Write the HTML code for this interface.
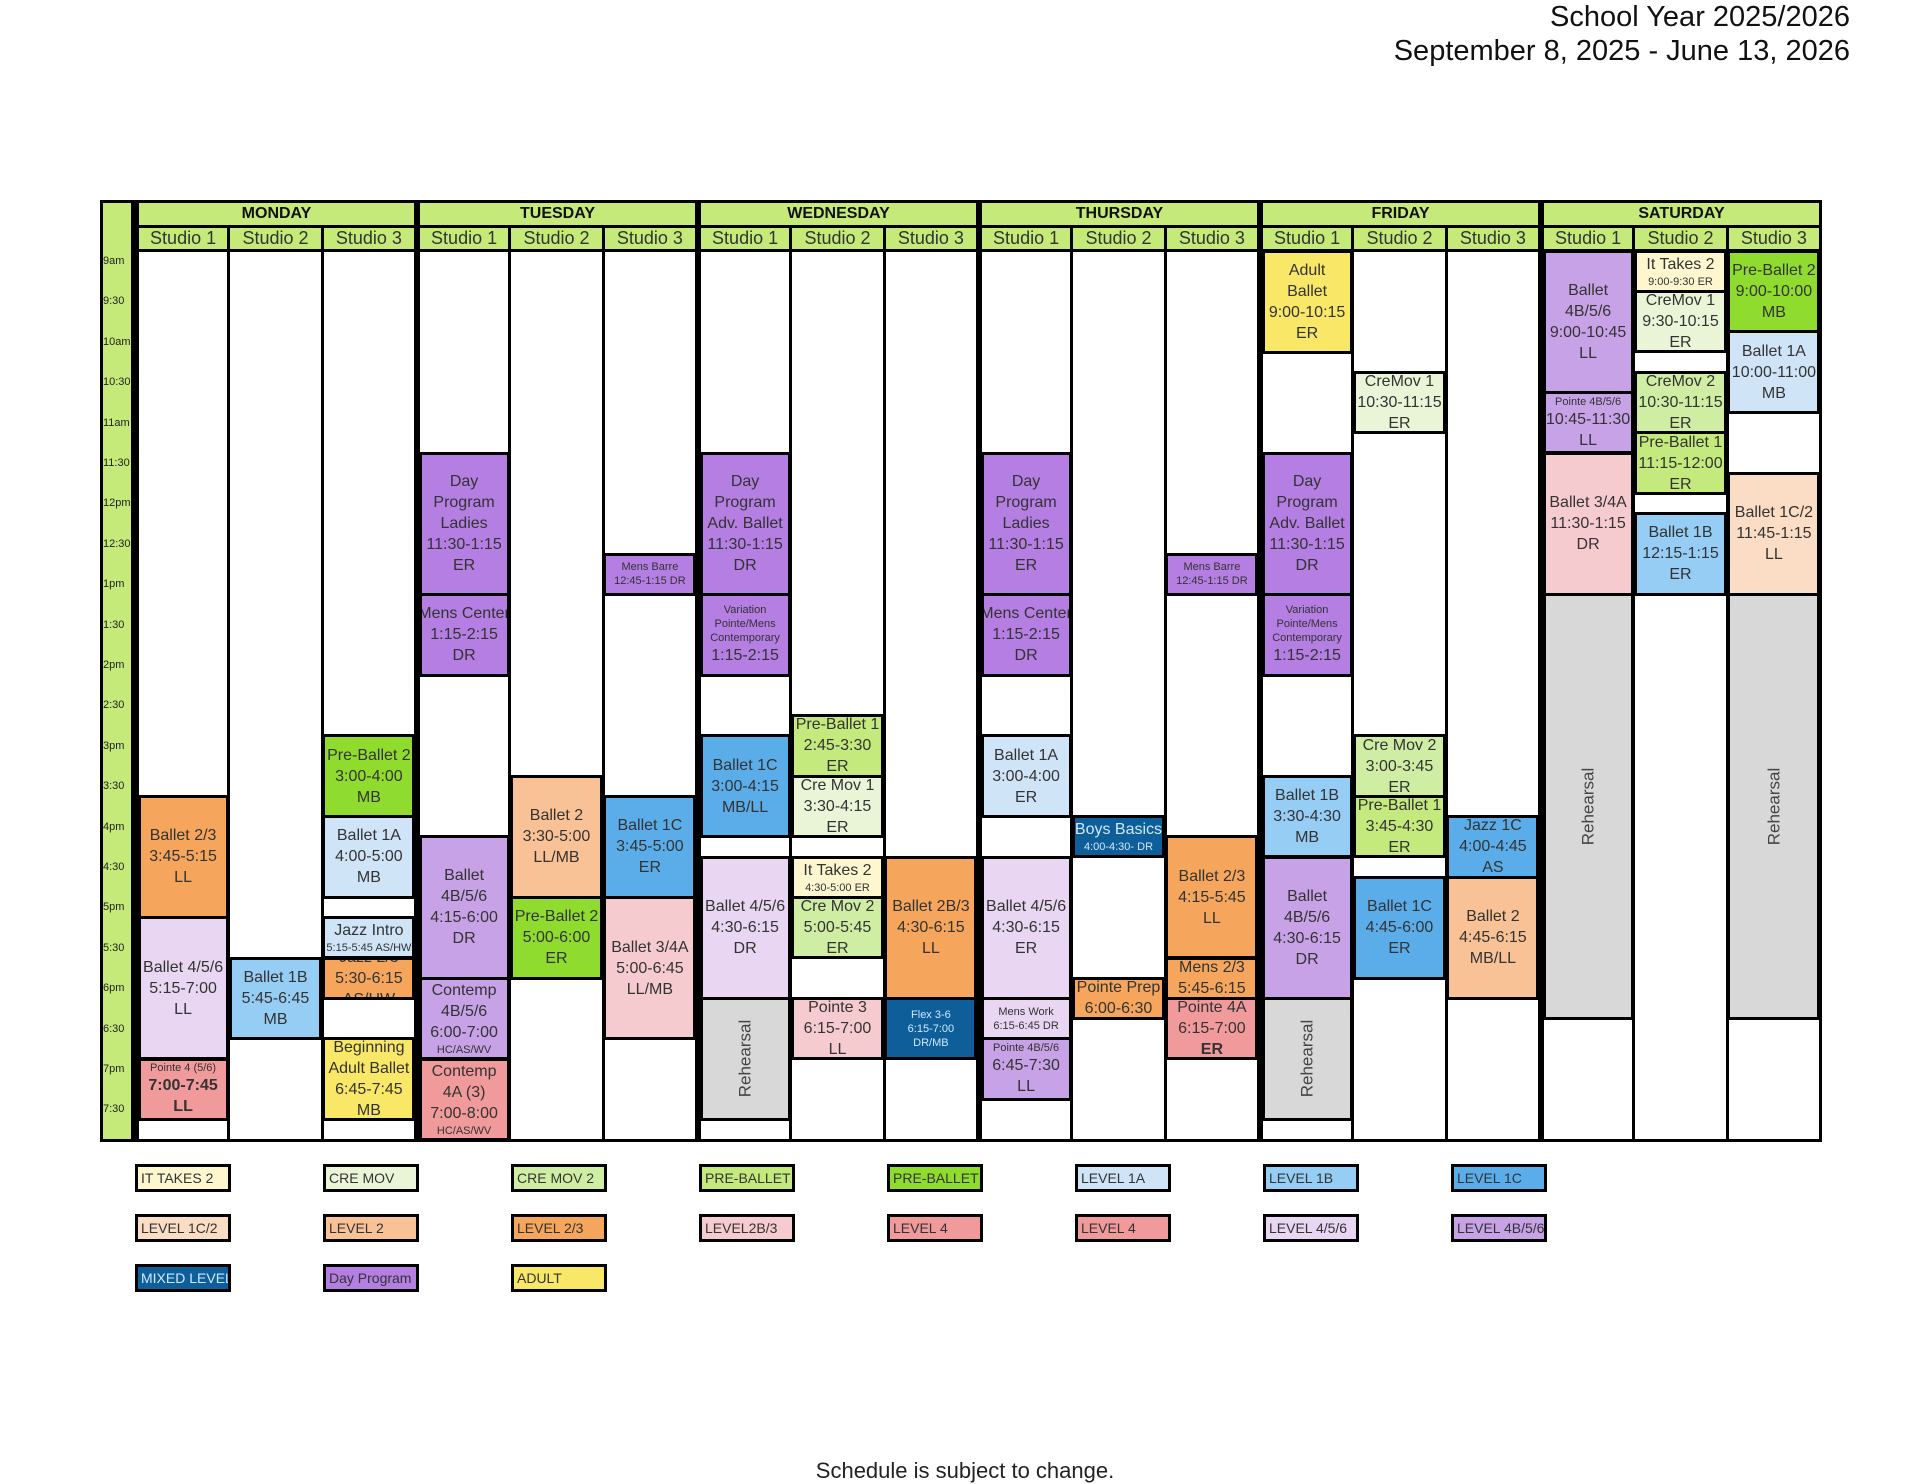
<!DOCTYPE html>
<html><head><meta charset="utf-8">
<style>
body{margin:0;width:1920px;height:1484px;background:#fff;position:relative;overflow:hidden;font-family:"Liberation Sans",sans-serif;}
.abs{position:absolute;box-sizing:border-box;}
.ev{position:absolute;box-sizing:border-box;border:3px solid #000;display:flex;flex-direction:column;justify-content:center;align-items:center;text-align:center;color:#333;font-size:16px;line-height:21px;overflow:hidden;white-space:nowrap;}
.ev .s{font-size:11px;line-height:14px;}
.rot{transform:rotate(-90deg);white-space:nowrap;font-size:17px;color:#444;}
.tl{position:absolute;left:103px;font-size:11px;color:#222;}
.hd{position:absolute;background:#c5ea79;display:flex;align-items:center;justify-content:center;box-sizing:border-box;}
.leg{position:absolute;box-sizing:border-box;border:3px solid #000;width:96px;height:28px;font-size:14px;line-height:22px;padding-left:3px;color:#333;white-space:nowrap;overflow:hidden;}
</style></head><body>
<div class="abs" style="right:70px;top:0;font-size:29px;line-height:34px;text-align:right;color:#111;">School Year 2025/2026<br>September 8, 2025 - June 13, 2026</div>
<div class="abs" style="left:100px;top:200px;width:1722px;height:942px;background:#000;"></div>
<div class="abs" style="left:103px;top:203px;width:28px;height:936px;background:#c5ea79;"></div>
<div id="grid"></div>
<div class="abs" style="left:0;width:1930px;top:1458px;text-align:center;font-size:22px;color:#222;">Schedule is subject to change.</div>
<script>
const days=["MONDAY","TUESDAY","WEDNESDAY","THURSDAY","FRIDAY","SATURDAY"];
const studios=["Studio 1","Studio 2","Studio 3"];
const timeLabels=["9am","9:30","10am","10:30","11am","11:30","12pm","12:30","1pm","1:30","2pm","2:30","3pm","3:30","4pm","4:30","5pm","5:30","6pm","6:30","7pm","7:30"];
const C={it2:"#fdf6cf",cre:"#eaf5d8",cre2:"#cfeea4",pb1:"#c4ea7e",pb2:"#8fdc2e",l1a:"#cfe5f7",l1b:"#96cdf4",l1c:"#5badea",l1c2:"#fbdcc4",l2:"#f9c196",l23:"#f5a65c",l2b3:"#f6cbd0",l4:"#f09a9b",l456:"#e8d6f2",l4b56:"#c8a2e6",mix:"#0e5e9a",day:"#b47ee2",adult:"#f9e868",reh:"#d8d8d8"};
// events: day, studio, start(h), end(h), colorKey, lines ("~" prefix = small line)
const events=[
[0,0,15.75,17.25,"l23",["Ballet 2/3","3:45-5:15","LL"]],
[0,0,17.25,19,"l456",["Ballet 4/5/6","5:15-7:00","LL"]],
[0,0,19,19.75,"l4",["~Pointe 4 (5/6)","<b>7:00-7:45</b>","<b>LL</b>"]],
[0,1,17.75,18.75,"l1b",["Ballet 1B","5:45-6:45","MB"]],
[0,2,15,16,"pb2",["Pre-Ballet 2","3:00-4:00","MB"]],
[0,2,16,17,"l1a",["Ballet 1A","4:00-5:00","MB"]],
[0,2,17.25,17.75,"l1a",["Jazz Intro","~5:15-5:45 AS/HW"]],
[0,2,17.75,18.25,"l23",["Jazz 2/3","5:30-6:15","AS/HW"]],
[0,2,18.75,19.75,"adult",["Beginning","Adult Ballet","6:45-7:45","MB"]],
[1,0,11.5,13.25,"day",["Day","Program","Ladies","11:30-1:15","ER"]],
[1,0,13.25,14.25,"day",["Mens Center","1:15-2:15","DR"]],
[1,0,16.25,18,"l4b56",["Ballet","4B/5/6","4:15-6:00","DR"]],
[1,0,18,19,"l4b56",["Contemp","4B/5/6","6:00-7:00","~HC/AS/WV"]],
[1,0,19,20,"l4",["Contemp","4A (3)","7:00-8:00","~HC/AS/WV"]],
[1,1,15.5,17,"l2",["Ballet 2","3:30-5:00","LL/MB"]],
[1,1,17,18,"pb2",["Pre-Ballet 2","5:00-6:00","ER"]],
[1,2,12.75,13.25,"day",["~Mens Barre","~12:45-1:15 DR"]],
[1,2,15.75,17,"l1c",["Ballet 1C","3:45-5:00","ER"]],
[1,2,17,18.75,"l2b3",["Ballet 3/4A","5:00-6:45","LL/MB"]],
[2,0,11.5,13.25,"day",["Day","Program","Adv. Ballet","11:30-1:15","DR"]],
[2,0,13.25,14.25,"day",["~Variation","~Pointe/Mens","~Contemporary","1:15-2:15"]],
[2,0,15,16.25,"l1c",["Ballet 1C","3:00-4:15","MB/LL"]],
[2,0,16.5,18.25,"l456",["Ballet 4/5/6","4:30-6:15","DR"]],
[2,0,18.25,19.75,"reh",["@Rehearsal"]],
[2,1,14.75,15.5,"pb1",["Pre-Ballet 1","2:45-3:30","ER"]],
[2,1,15.5,16.25,"cre",["Cre Mov 1","3:30-4:15","ER"]],
[2,1,16.5,17,"it2",["It Takes 2","~4:30-5:00 ER"]],
[2,1,17,17.75,"cre2",["Cre Mov 2","5:00-5:45","ER"]],
[2,1,18.25,19,"l2b3",["Pointe 3","6:15-7:00","LL"]],
[2,2,16.5,18.25,"l23",["Ballet 2B/3","4:30-6:15","LL"]],
[2,2,18.25,19,"mix",["~Flex 3-6","~6:15-7:00","~DR/MB"]],
[3,0,11.5,13.25,"day",["Day","Program","Ladies","11:30-1:15","ER"]],
[3,0,13.25,14.25,"day",["Mens Center","1:15-2:15","DR"]],
[3,0,15,16,"l1a",["Ballet 1A","3:00-4:00","ER"]],
[3,0,16.5,18.25,"l456",["Ballet 4/5/6","4:30-6:15","ER"]],
[3,0,18.25,18.75,"l456",["~Mens Work","~6:15-6:45 DR"]],
[3,0,18.75,19.5,"l4b56",["~Pointe 4B/5/6","6:45-7:30","LL"]],
[3,1,16,16.5,"mix",["Boys Basics","~4:00-4:30- DR"]],
[3,1,18,18.5,"l23",["Pointe Prep","6:00-6:30"]],
[3,2,12.75,13.25,"day",["~Mens Barre","~12:45-1:15 DR"]],
[3,2,16.25,17.75,"l23",["Ballet 2/3","4:15-5:45","LL"]],
[3,2,17.75,18.25,"l23",["Mens 2/3","5:45-6:15"]],
[3,2,18.25,19,"l4",["Pointe 4A","6:15-7:00","<b>ER</b>"]],
[4,0,9,10.25,"adult",["Adult","Ballet","9:00-10:15","ER"]],
[4,0,11.5,13.25,"day",["Day","Program","Adv. Ballet","11:30-1:15","DR"]],
[4,0,13.25,14.25,"day",["~Variation","~Pointe/Mens","~Contemporary","1:15-2:15"]],
[4,0,15.5,16.5,"l1b",["Ballet 1B","3:30-4:30","MB"]],
[4,0,16.5,18.25,"l4b56",["Ballet","4B/5/6","4:30-6:15","DR"]],
[4,0,18.25,19.75,"reh",["@Rehearsal"]],
[4,1,10.5,11.25,"cre",["CreMov 1","10:30-11:15","ER"]],
[4,1,15,15.75,"cre2",["Cre Mov 2","3:00-3:45","ER"]],
[4,1,15.75,16.5,"pb1",["Pre-Ballet 1","3:45-4:30","ER"]],
[4,1,16.75,18,"l1c",["Ballet 1C","4:45-6:00","ER"]],
[4,2,16,16.75,"l1c",["Jazz 1C","4:00-4:45","AS"]],
[4,2,16.75,18.25,"l2",["Ballet 2","4:45-6:15","MB/LL"]],
[5,0,9,10.75,"l4b56",["Ballet","4B/5/6","9:00-10:45","LL"]],
[5,0,10.75,11.5,"l4b56",["~Pointe 4B/5/6","10:45-11:30","LL"]],
[5,0,11.5,13.25,"l2b3",["Ballet 3/4A","11:30-1:15","DR"]],
[5,0,13.25,18.5,"reh",["@Rehearsal"]],
[5,1,9,9.5,"it2",["It Takes 2","~9:00-9:30 ER"]],
[5,1,9.5,10.25,"cre",["CreMov 1","9:30-10:15","ER"]],
[5,1,10.5,11.25,"cre2",["CreMov 2","10:30-11:15","ER"]],
[5,1,11.25,12,"pb1",["Pre-Ballet 1","11:15-12:00","ER"]],
[5,1,12.25,13.25,"l1b",["Ballet 1B","12:15-1:15","ER"]],
[5,2,9,10,"pb2",["Pre-Ballet 2","9:00-10:00","MB"]],
[5,2,10,11,"l1a",["Ballet 1A","10:00-11:00","MB"]],
[5,2,11.75,13.25,"l1c2",["Ballet 1C/2","11:45-1:15","LL"]],
[5,2,13.25,18.5,"reh",["@Rehearsal"]]
];
const legendLabels=["IT TAKES 2","CRE MOV","CRE MOV 2","PRE-BALLET 1","PRE-BALLET 2","LEVEL 1A","LEVEL 1B","LEVEL 1C","LEVEL 1C/2","LEVEL 2","LEVEL 2/3","LEVEL2B/3","LEVEL 4","LEVEL 4","LEVEL 4/5/6","LEVEL 4B/5/6","MIXED LEVEL","Day Program","ADULT"];
const legendKeys=["it2","cre","cre2","pb1","pb2","l1a","l1b","l1c","l1c2","l2","l23","l2b3","l4","l4","l456","l4b56","mix","day","adult"];

const G=document.getElementById('grid');
const X0=135,DW=281,SW=DW/3,Y0=251,HR=80.8;
function yOf(h){return Y0+(h-9)*HR;}
function xOf(d,s){return X0+d*DW+s*SW;}
function colL(d,s){return xOf(d,s)+(s===0?4:1.5);}
function colR(d,s){return xOf(d,s+1)-(s===2?2:1.5);}
days.forEach((dn,d)=>{
  const h=document.createElement('div');h.className='hd';
  
  
  h.style.cssText=`left:${xOf(d,0)+4}px;top:203px;width:${DW-6}px;height:22px;font-weight:bold;font-size:16px;color:#111;`;
  h.textContent=dn;G.appendChild(h);
  studios.forEach((sn,s)=>{
    const l=colL(d,s),r=colR(d,s);
    const sh=document.createElement('div');sh.className='hd';
    
    
    sh.style.cssText=`left:${l}px;top:228px;width:${r-l}px;height:21px;font-size:18px;color:#333;`;
    sh.textContent=sn;G.appendChild(sh);
    const b=document.createElement('div');b.className='abs';
    
    
    b.style.cssText=`left:${l}px;top:252px;width:${r-l}px;height:887px;background:#fff;`;
    G.appendChild(b);
  });
});
timeLabels.forEach((t,i)=>{
  const e=document.createElement('div');e.className='tl';
  
  
  e.style.top=(yOf(9+i*0.5)+4)+'px';e.textContent=t;G.appendChild(e);
});
events.forEach(ev=>{
  const [d,s,a,b,c,lines]=ev;
  const e=document.createElement('div');e.className='ev';
  
  
  const l=colL(d,s)-1.5,r=colR(d,s)+1.5;
  e.style.left=l+'px';e.style.width=(r-l)+'px';
  e.style.top=(yOf(a)-1.5)+'px';e.style.height=(yOf(b)-yOf(a)+3)+'px';
  e.style.background=C[c];
  if(c==='mix')e.style.color='#cfe8ff';
  lines.forEach(t=>{
    const sp=document.createElement('div');
    if(t[0]==='@'){sp.className='rot';t=t.slice(1);}
    else if(t[0]==='~'){sp.className='s';t=t.slice(1);}
    sp.innerHTML=t;e.appendChild(sp);
  });
  G.appendChild(e);
});
legendLabels.forEach((t,i)=>{
  const e=document.createElement('div');e.className='leg';
  
  
  const col=i%8,row=Math.floor(i/8);
  e.style.left=(135+col*188)+'px';e.style.top=(1164+row*50)+'px';
  e.style.background=C[legendKeys[i]];
  if(legendKeys[i]==='mix')e.style.color='#cfe8ff';
  e.textContent=t;G.appendChild(e);
});
</script>
</body></html>
